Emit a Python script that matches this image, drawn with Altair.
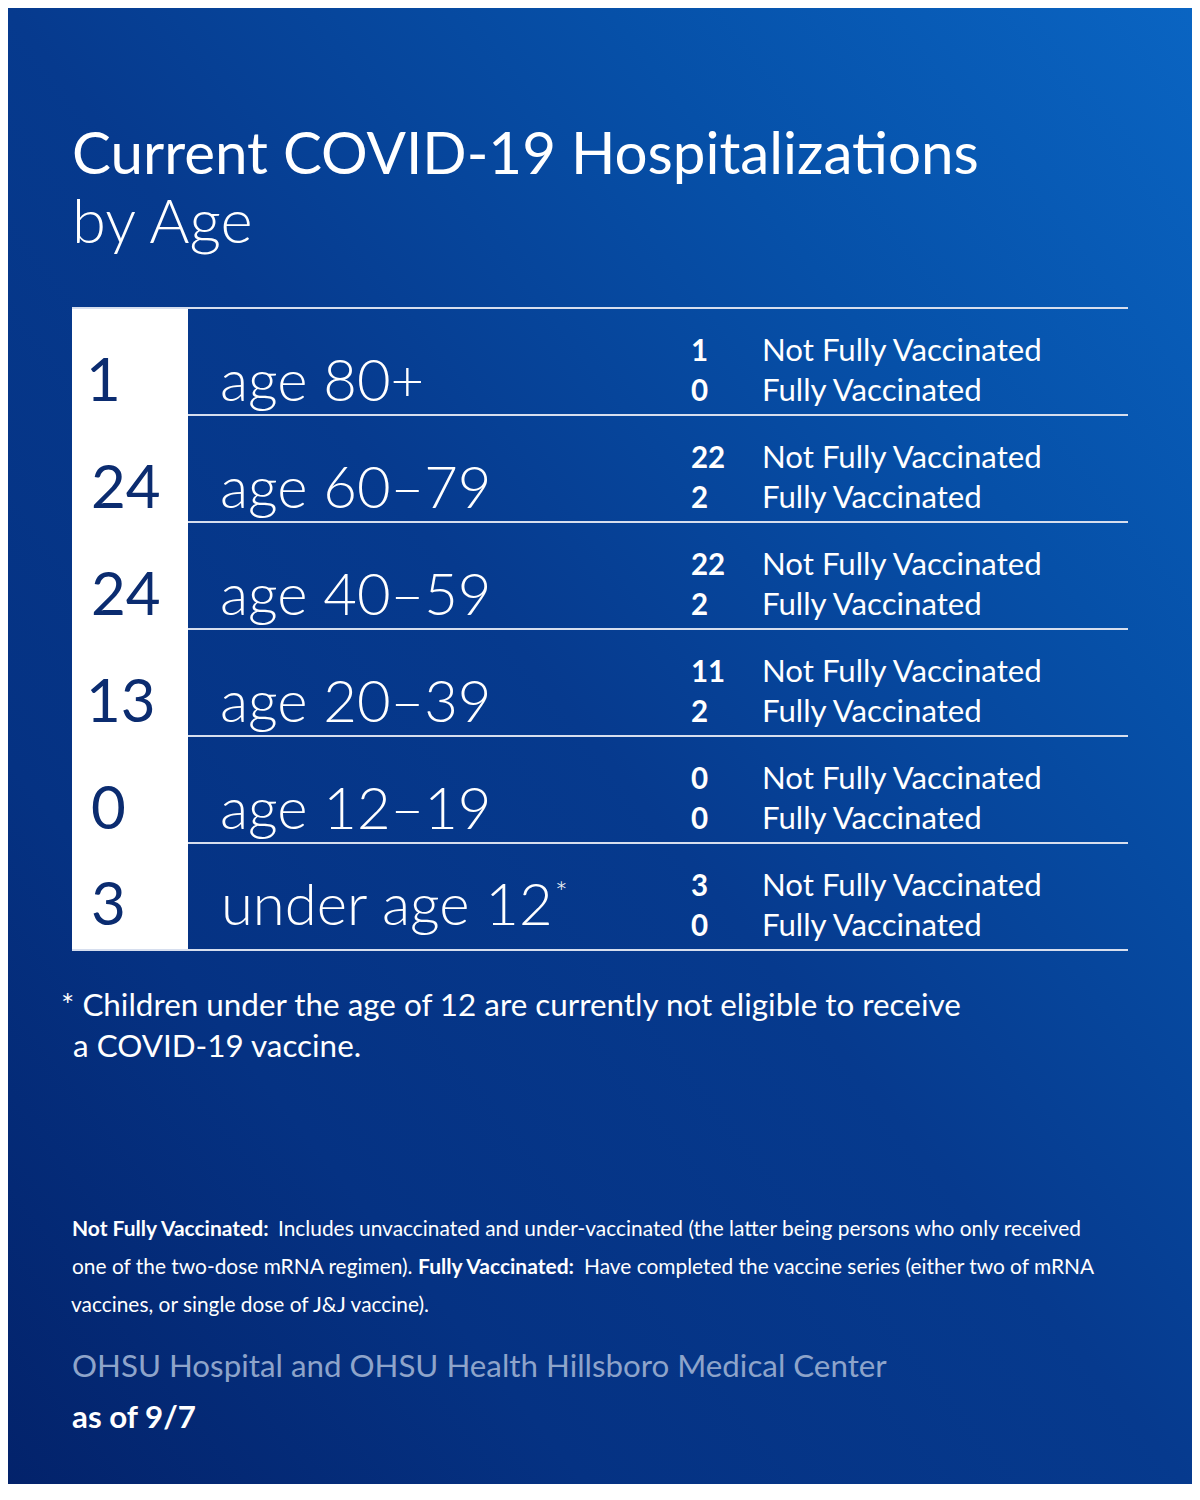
import altair as alt
import pandas as pd

# ---------------- data ----------------
AGE_GROUPS = ["age 80+", "age 60–79", "age 40–59", "age 20–39", "age 12–19", "under age 12"]
TOTALS = [1, 24, 24, 13, 0, 3]
NOT_FULLY = [1, 22, 22, 11, 0, 3]
FULLY = [0, 2, 2, 2, 0, 0]
STATUS_LABELS = ["Not Fully Vaccinated", "Fully Vaccinated"]

TITLE = "Current COVID-19 Hospitalizations"
SUBTITLE = "by Age"
FOOTNOTE = ["* Children under the age of 12 are currently not eligible to receive", "a COVID-19 vaccine."]
DEF_LINES = [
    [("Not Fully Vaccinated:", "bold"), ("Includes unvaccinated and under-vaccinated (the latter being persons who only received", "normal")],
    [("one of the two-dose mRNA regimen).", "normal"), ("Fully Vaccinated:", "bold"), ("Have completed the vaccine series (either two of mRNA", "normal")],
    [("vaccines, or single dose of J&J vaccine).", "normal")],
]
SOURCE = "OHSU Hospital and OHSU Health Hillsboro Medical Center"
DATE = "as of 9/7"

# ---------------- layout ----------------
W, H = 1184, 1476
XS = alt.Scale(domain=[8, 8 + W], range=[0, W], nice=False, zero=False)
YS = alt.Scale(domain=[8, 8 + H], range=[0, H], nice=False, zero=False)
FONT = "Lato"
TABLE_TOP = 308
ROW_H = 107
N = len(AGE_GROUPS)
TABLE_BOTTOM = TABLE_TOP + ROW_H * N
COL_LEFT, COL_RIGHT, TABLE_RIGHT = 72, 188, 1128
NAVY = "#0b2c70"


def enc(chart, text=True):
    e = dict(
        x=alt.X("x:Q", scale=XS, axis=None),
        y=alt.Y("y:Q", scale=YS, axis=None),
    )
    if text:
        e["text"] = alt.Text("t:N")
    return chart.encode(**e)


def text_layer(rows, size, weight="normal", color="white", align="left"):
    df = pd.DataFrame(rows, columns=["x", "y", "t"])
    return enc(alt.Chart(df).mark_text(font=FONT, fontSize=size, fontWeight=weight,
                                       color=color, align=align, baseline="alphabetic"))


# background gradient
bg_df = pd.DataFrame({"x": [0], "x2": [1200], "y": [0], "y2": [1500]})
gradient = alt.LinearGradient(
    gradient="linear",
    stops=[
        alt.GradientStop(color="#0a65c3", offset=0),
        alt.GradientStop(color="#0650a8", offset=0.25),
        alt.GradientStop(color="#063a8e", offset=0.5),
        alt.GradientStop(color="#053283", offset=0.75),
        alt.GradientStop(color="#03226a", offset=1),
    ],
    x1=1, y1=0, x2=0, y2=1,
)
background = alt.Chart(bg_df).mark_rect(color=gradient).encode(
    x=alt.X("x:Q", scale=XS, axis=None), x2="x2:Q",
    y=alt.Y("y:Q", scale=YS, axis=None), y2="y2:Q",
)

# white total column
col_df = pd.DataFrame({"x": [COL_LEFT], "x2": [COL_RIGHT], "y": [TABLE_TOP + 1], "y2": [TABLE_BOTTOM]})
white_col = alt.Chart(col_df).mark_rect(color="white").encode(
    x=alt.X("x:Q", scale=XS, axis=None), x2="x2:Q",
    y=alt.Y("y:Q", scale=YS, axis=None), y2="y2:Q",
)

# horizontal rules
rule_rows = [{"x": COL_LEFT, "x2": TABLE_RIGHT, "y": TABLE_TOP}]
for i in range(1, N):
    rule_rows.append({"x": COL_RIGHT, "x2": TABLE_RIGHT, "y": TABLE_TOP + i * ROW_H})
rule_rows.append({"x": COL_LEFT, "x2": TABLE_RIGHT, "y": TABLE_BOTTOM})
rules = alt.Chart(pd.DataFrame(rule_rows)).mark_rule(color="#d6deee", strokeWidth=2).encode(
    x=alt.X("x:Q", scale=XS, axis=None), x2="x2:Q",
    y=alt.Y("y:Q", scale=YS, axis=None),
)

# table texts
total_rows, age_rows, nfv_num, fv_num, nfv_lbl, fv_lbl = [], [], [], [], [], []
for i in range(N):
    top = TABLE_TOP + i * ROW_H
    bottom = top + ROW_H
    base = bottom - (25 if i == N - 1 else 14)
    total_rows.append((86 if str(TOTALS[i]).startswith("1") else 91, base, str(TOTALS[i])))
    age_rows.append((220 if i < N - 1 else 221, base, AGE_GROUPS[i]))
    nfv_num.append((691, top + 53, str(NOT_FULLY[i])))
    fv_num.append((691, top + 93, str(FULLY[i])))
    nfv_lbl.append((762, top + 53, STATUS_LABELS[0]))
    fv_lbl.append((762, top + 93, STATUS_LABELS[1]))

totals_layer = text_layer(total_rows, 60, "normal", NAVY)
age_layer = text_layer(age_rows, 58, 300)
num_layer = text_layer(nfv_num + fv_num, 29.5, "bold")
lbl_layer = text_layer(nfv_lbl + fv_lbl, 31.2, "normal")
star_layer = text_layer([(555, 903, "*")], 30, 300)

# titles
title_layer = text_layer([(72, 174, TITLE)], 58.3, "normal")
sub_layer = text_layer([(72, 243, SUBTITLE)], 61.5, 300)

# footnote
foot_layer = text_layer([(61, 1016, FOOTNOTE[0]), (73, 1057, FOOTNOTE[1])], 31.4, "normal")

# definitions
DEF_X = [[72, 278], [72, 418, 584], [71]]
DEF_Y = [1236, 1274, 1312]
bold_rows, reg_rows = [], []
for li, segs in enumerate(DEF_LINES):
    for si, (txt, w) in enumerate(segs):
        (bold_rows if w == "bold" else reg_rows).append((DEF_X[li][si], DEF_Y[li], txt))
def_bold = text_layer(bold_rows, 21, "bold")
def_reg = text_layer(reg_rows, 20.9, "normal")

source_layer = text_layer([(72, 1377, SOURCE)], 31.3, "normal", "#8ea4ca")
date_layer = text_layer([(72, 1428, DATE)], 31.3, "bold")

chart = alt.layer(
    background, white_col, rules,
    totals_layer, age_layer, num_layer, lbl_layer, star_layer,
    title_layer, sub_layer, foot_layer, def_bold, def_reg,
    source_layer, date_layer,
).properties(
    width=W, height=H, padding=0,
    autosize=alt.AutoSizeParams(type="none"),
).configure_view(stroke=None).configure(background="#03226a")

chart.save("out.html", embed_options={"renderer": "svg", "actions": False})
